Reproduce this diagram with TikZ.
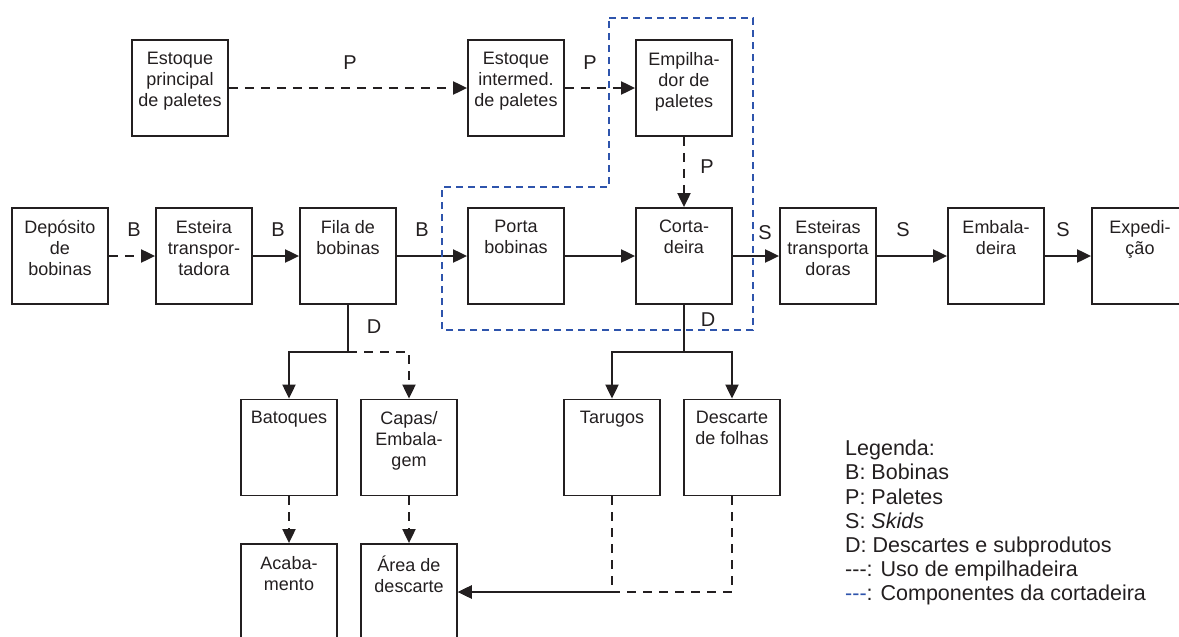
\documentclass[tikz,border=0pt]{standalone}
\usepackage{fontspec}
\setmainfont{Liberation Sans}
\usepackage{xcolor}
\usetikzlibrary{positioning,arrows.meta}

\definecolor{preto}{RGB}{35,31,32}
\definecolor{azulcorte}{RGB}{46,84,172}

\begin{document}
\begin{tikzpicture}[
  x=1pt, y=-1pt,
  caixa/.style={draw=preto, line width=1.8pt, minimum width=96pt, minimum height=96pt, inner sep=0pt, text=preto,
    font=\fontsize{18}{21}\selectfont,
    execute at begin node={\begin{minipage}[c][96pt][t]{96pt}\centering\vspace*{12pt}},
    execute at end node={\end{minipage}}},
  rot/.style={font=\fontsize{20}{24}\selectfont, inner sep=0pt, text=preto},
  seta/.style={-{Triangle[length=14pt,width=13pt]}, line width=2pt, draw=preto},
  tracejado/.style={dash pattern=on 9pt off 7pt},
  corte/.style={draw=azulcorte, line width=1.4pt, dash pattern=on 7pt off 5pt}
]
\useasboundingbox (0,0) rectangle (1179,637);
\clip (0,0) rectangle (1179,637);

\node[caixa] (estprinc) at (180,88) {Estoque\\principal\\de paletes};
\node[caixa] (estinter) at (516,88) {Estoque\\intermed.\\de paletes};
\node[caixa] (empilha) at (684,88) {Empilha-\\dor de\\paletes};

\node[caixa] (deposito) at (60,256) {Depósito\\de\\bobinas};
\node[caixa] (esteira) at (204,256) {Esteira\\transpor-\\tadora};
\node[caixa] (fila) at (348,256) {Fila de\\bobinas};
\node[caixa] (porta) at (516,256) {Porta\\bobinas};
\node[caixa] (corta) at (684,256) {Corta-\\deira};
\node[caixa] (esteiras) at (828,256) {Esteiras\\transporta\\doras};
\node[caixa] (embala) at (996,256) {Embala-\\deira};
\node[caixa] (exped) at (1140,256) {Expedi-\\ção};

\node[caixa] (batoques) at (289,447.5) {Batoques};
\node[caixa] (capas) at (409,447.5) {Capas/\\Embala-\\gem};
\node[caixa] (tarugos) at (612,447.5) {Tarugos};
\node[caixa] (descfolhas) at (732,447.5) {Descarte\\de folhas};

\node[caixa] (acaba) at (289,592) {Acaba-\\mento};
\node[caixa] (area) at (409,592) {Área de\\descarte};

\coordinate (jfila) at (348,352);
\coordinate (jcorta) at (684,352);

\node[rot] (p1) at (350,63) {P};
\node[rot] (p2) at (590,63) {P};
\node[rot] (p3) at (707,167) {P};
\node[rot] (b1) at (134,230) {B};
\node[rot] (b2) at (278,230) {B};
\node[rot] (b3) at (422,230) {B};
\node[rot] (s1) at (765,233) {S};
\node[rot] (s2) at (903,230) {S};
\node[rot] (s3) at (1063,230) {S};
\node[rot] (d1) at (374,327) {D};
\node[rot] (d2) at (708,320) {D};

\node[anchor=north west, inner sep=0pt, align=left, text=preto, font=\fontsize{21.5}{24.2}\selectfont] (legenda) at (845,440)
  {Legenda:\\B: Bobinas\\P: Paletes\\S: \textit{Skids}\\D: Descartes e subprodutos\\
   \mbox{-}\mbox{-}\mbox{-}: Uso de empilhadeira\\
   \textcolor{azulcorte}{\mbox{-}\mbox{-}\mbox{-}}: Componentes da cortadeira};

\draw[seta, tracejado] (estprinc) -- (estinter);
\draw[seta, tracejado] (estinter) -- (empilha);
\draw[seta, tracejado] (empilha) -- (corta);

\draw[seta, tracejado] (deposito) -- (esteira);
\draw[seta] (esteira) -- (fila);
\draw[seta] (fila) -- (porta);
\draw[seta] (porta) -- (corta);
\draw[seta] (corta) -- (esteiras);
\draw[seta] (esteiras) -- (embala);
\draw[seta] (embala) -- (exped);

\draw[seta] (fila) -- (jfila) -| (batoques);
\draw[seta, tracejado] (jfila) -| (capas);
\draw[seta] (corta) -- (jcorta) -| (tarugos);
\draw[seta] (jcorta) -| (descfolhas);

\draw[seta, tracejado] (batoques) -- (acaba);
\draw[seta, tracejado] (capas) -- (area);
\draw[seta, tracejado] (tarugos) |- (area);
\draw[seta, tracejado] (descfolhas) |- (area);

\draw[corte] (609,18) -- (753,18) -- (753,330) -- (442,330) -- (442,187) -- (609,187) -- cycle;
\end{tikzpicture}
\end{document}
